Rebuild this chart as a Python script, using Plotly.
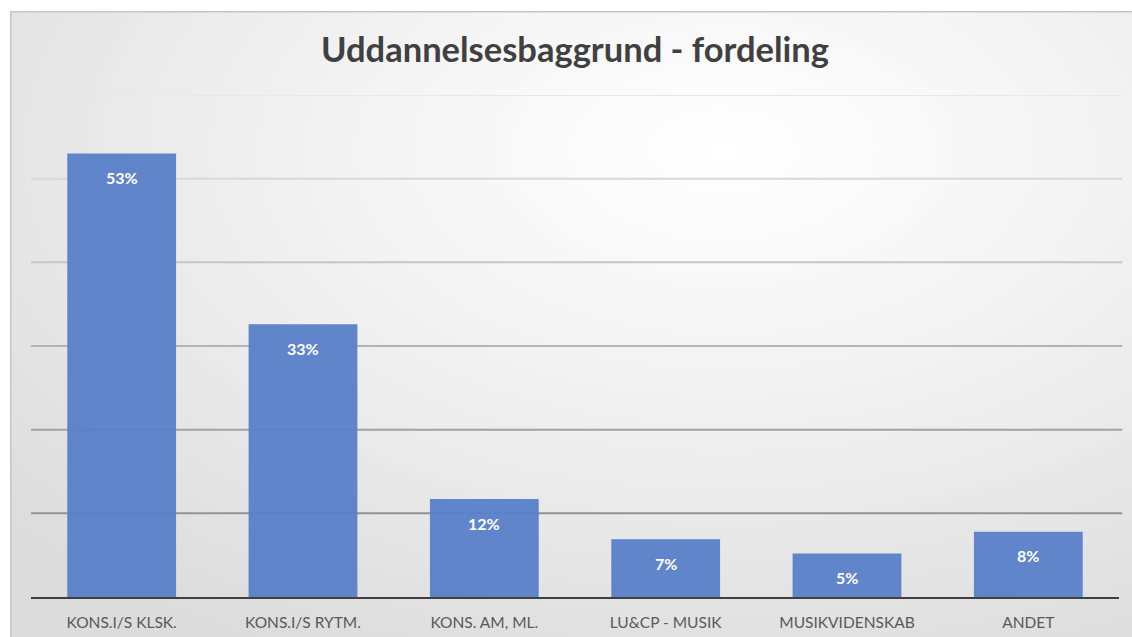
import base64
import plotly.graph_objects as go

# ---- data ----
categories = ["KONS.I/S KLSK.", "KONS.I/S RYTM.", "KONS. AM, ML.",
              "LU&CP - MUSIK", "MUSIKVIDENSKAB", "ANDET"]
shares = [0.530, 0.326, 0.117, 0.069, 0.052, 0.078]
grid_values = [0.1, 0.2, 0.3, 0.4, 0.5, 0.6]
title_text = "Uddannelsesbaggrund - fordeling"

# ---- style ----
FONT = "Lato"
BAR_COLOR = "#5A80C9"
grid_colors = ["#939393", "#a2a2a2", "#b4b4b4", "#c6c6c6", "#d8d8d8", "#e8e8e8"]

W, H = 1132, 637
L, R, T, B = 31, 13, 95, 40
pw, ph = W - L - R, H - T - B

svg = (
    "<svg xmlns='http://www.w3.org/2000/svg' width='1200' height='700' "
    "viewBox='0 0 1200 700' preserveAspectRatio='none'>"
    "<defs><radialGradient id='g' cx='0.6' cy='0.2' r='0.8'>"
    "<stop offset='0' stop-color='#ffffff'/>"
    "<stop offset='0.4' stop-color='#f3f3f3'/>"
    "<stop offset='1' stop-color='#dcdcdc'/>"
    "</radialGradient></defs>"
    "<rect x='0' y='0' width='1200' height='700' fill='url(#g)' "
    "stroke='#c6c6c6' stroke-width='3'/></svg>"
)
bg_src = "data:image/svg+xml;base64," + base64.b64encode(svg.encode()).decode()

fig = go.Figure()
fig.add_trace(go.Bar(
    x=categories, y=shares,
    marker=dict(color=BAR_COLOR, line=dict(width=0)),
    opacity=0.95,
    hoverinfo="skip",
))

for v, c in zip(grid_values, grid_colors):
    fig.add_shape(type="line", xref="paper", yref="y", x0=0, x1=1.003, y0=v, y1=v,
                  line=dict(color=c, width=2), layer="below")

for cat, v in zip(categories, shares):
    fig.add_annotation(x=cat, y=v, text=f"{v:.0%}", showarrow=False,
                       yshift=-24, font=dict(family=FONT, size=16, color="white", weight="bold"))

fig.add_layout_image(dict(
    source=bg_src, xref="paper", yref="paper",
    x=(10 - L) / pw, y=(H - B - 11) / ph,
    sizex=(1200 - 10) / pw, sizey=(700) / ph,
    xanchor="left", yanchor="top", sizing="stretch", layer="below",
))

fig.update_layout(
    width=W, height=H,
    margin=dict(l=L, r=R, t=T, b=B, pad=0),
    paper_bgcolor="white", plot_bgcolor="rgba(0,0,0,0)",
    showlegend=False, bargap=0.4,
    title=dict(text=title_text, x=0.5, xref="paper", y=1 - 50 / H, yref="container",
               xanchor="center", yanchor="middle",
               font=dict(family=FONT, size=34.5, color="#404040", weight="bold")),
    xaxis=dict(showgrid=False, showline=True, linecolor="#404040", linewidth=2,
               ticks="", tickfont=dict(family=FONT, size=15.5, color="#595959"),
               ticklabelstandoff=10, fixedrange=True, automargin=False),
    yaxis=dict(range=[0, 0.6], showgrid=False, showticklabels=False, zeroline=False,
               showline=False, fixedrange=True, automargin=False),
)

fig.write_html(
    "out.html", config={"displayModeBar": False},
    post_script=("document.body.style.margin='0';document.body.style.overflow='hidden';"
                 "document.documentElement.style.overflow='hidden';"),
)
